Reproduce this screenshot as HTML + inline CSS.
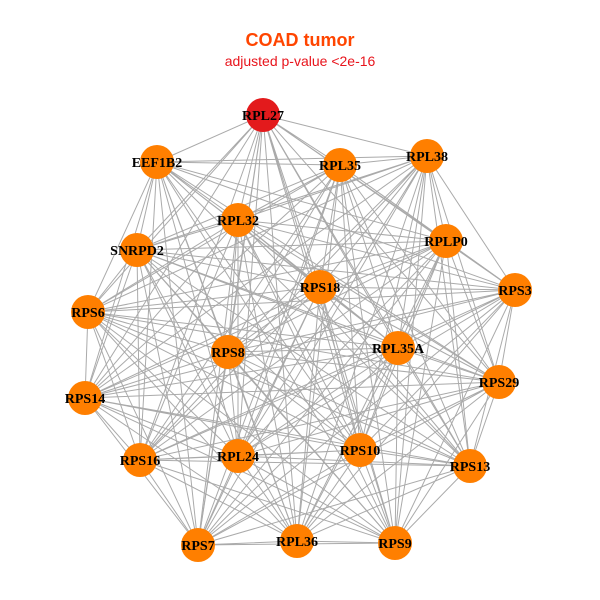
<!DOCTYPE html>
<html><head><meta charset="utf-8"><style>
html,body{margin:0;padding:0;background:#fff;width:600px;height:600px;overflow:hidden}
</style></head><body>
<svg width="600" height="600" viewBox="0 0 600 600" xmlns="http://www.w3.org/2000/svg">
<rect width="600" height="600" fill="#fff"/>
<text x="300" y="46" text-anchor="middle" font-family="Liberation Sans, sans-serif" font-weight="bold" font-size="18" fill="#ff4500">COAD tumor</text>
<text x="300" y="66" text-anchor="middle" font-family="Liberation Sans, sans-serif" font-size="14" fill="#e8141c">adjusted p-value &lt;2e-16</text>
<g stroke="#aaaaaa" stroke-width="1" fill="none">
<path d="M263 115L157 162L263 115L340 165L263 115L427 156L263 115L238 220L263 115L137 250L263 115L446 241L263 115L320 287L263 115L515 290L263 115L88 312L263 115L398 348L263 115L228 352L263 115L499 382L263 115L85 398L263 115L360 450L263 115L238 456L263 115L140 460L263 115L470 466L263 115L198 545L263 115L297 541L263 115L395 543"/>
<path d="M157 162L340 165L157 162L427 156L157 162L238 220L157 162L137 250L157 162L446 241L157 162L320 287L157 162L515 290L157 162L88 312L157 162L398 348L157 162L228 352L157 162L499 382L157 162L85 398L157 162L360 450L157 162L238 456L157 162L140 460L157 162L470 466L157 162L198 545L157 162L297 541L157 162L395 543"/>
<path d="M340 165L427 156L340 165L238 220L340 165L137 250L340 165L446 241L340 165L320 287L340 165L515 290L340 165L88 312L340 165L398 348L340 165L228 352L340 165L499 382L340 165L85 398L340 165L360 450L340 165L238 456L340 165L140 460L340 165L470 466L340 165L198 545L340 165L297 541L340 165L395 543"/>
<path d="M427 156L238 220L427 156L137 250L427 156L446 241L427 156L320 287L427 156L515 290L427 156L88 312L427 156L398 348L427 156L228 352L427 156L499 382L427 156L85 398L427 156L360 450L427 156L238 456L427 156L140 460L427 156L470 466L427 156L198 545L427 156L297 541L427 156L395 543"/>
<path d="M238 220L137 250L238 220L446 241L238 220L320 287L238 220L515 290L238 220L88 312L238 220L398 348L238 220L228 352L238 220L499 382L238 220L85 398L238 220L360 450L238 220L238 456L238 220L140 460L238 220L470 466L238 220L198 545L238 220L297 541L238 220L395 543"/>
<path d="M137 250L446 241L137 250L320 287L137 250L515 290L137 250L88 312L137 250L398 348L137 250L228 352L137 250L499 382L137 250L85 398L137 250L360 450L137 250L238 456L137 250L140 460L137 250L470 466L137 250L198 545L137 250L297 541L137 250L395 543"/>
<path d="M446 241L320 287L446 241L515 290L446 241L88 312L446 241L398 348L446 241L228 352L446 241L499 382L446 241L85 398L446 241L360 450L446 241L238 456L446 241L140 460L446 241L470 466L446 241L198 545L446 241L297 541L446 241L395 543"/>
<path d="M320 287L515 290L320 287L88 312L320 287L398 348L320 287L228 352L320 287L499 382L320 287L85 398L320 287L360 450L320 287L238 456L320 287L140 460L320 287L470 466L320 287L198 545L320 287L297 541L320 287L395 543"/>
<path d="M515 290L88 312L515 290L398 348L515 290L228 352L515 290L499 382L515 290L85 398L515 290L360 450L515 290L238 456L515 290L140 460L515 290L470 466L515 290L198 545L515 290L297 541L515 290L395 543"/>
<path d="M88 312L398 348L88 312L228 352L88 312L499 382L88 312L85 398L88 312L360 450L88 312L238 456L88 312L140 460L88 312L470 466L88 312L198 545L88 312L297 541L88 312L395 543"/>
<path d="M398 348L228 352L398 348L499 382L398 348L85 398L398 348L360 450L398 348L238 456L398 348L140 460L398 348L470 466L398 348L198 545L398 348L297 541L398 348L395 543"/>
<path d="M228 352L499 382L228 352L85 398L228 352L360 450L228 352L238 456L228 352L140 460L228 352L470 466L228 352L198 545L228 352L297 541L228 352L395 543"/>
<path d="M499 382L85 398L499 382L360 450L499 382L238 456L499 382L140 460L499 382L470 466L499 382L198 545L499 382L297 541L499 382L395 543"/>
<path d="M85 398L360 450L85 398L238 456L85 398L140 460L85 398L470 466L85 398L198 545L85 398L297 541L85 398L395 543"/>
<path d="M360 450L238 456L360 450L140 460L360 450L470 466L360 450L198 545L360 450L297 541L360 450L395 543"/>
<path d="M238 456L140 460L238 456L470 466L238 456L198 545L238 456L297 541L238 456L395 543"/>
<path d="M140 460L470 466L140 460L198 545L140 460L297 541L140 460L395 543"/>
<path d="M470 466L198 545L470 466L297 541L470 466L395 543"/>
<path d="M198 545L297 541L198 545L395 543"/>
<path d="M297 541L395 543"/>
</g>
<g>
<circle cx="263" cy="115" r="17" fill="#e31a1c"/>
<circle cx="157" cy="162" r="17" fill="#ff7f00"/>
<circle cx="340" cy="165" r="17" fill="#ff7f00"/>
<circle cx="427" cy="156" r="17" fill="#ff7f00"/>
<circle cx="238" cy="220" r="17" fill="#ff7f00"/>
<circle cx="137" cy="250" r="17" fill="#ff7f00"/>
<circle cx="446" cy="241" r="17" fill="#ff7f00"/>
<circle cx="320" cy="287" r="17" fill="#ff7f00"/>
<circle cx="515" cy="290" r="17" fill="#ff7f00"/>
<circle cx="88" cy="312" r="17" fill="#ff7f00"/>
<circle cx="398" cy="348" r="17" fill="#ff7f00"/>
<circle cx="228" cy="352" r="17" fill="#ff7f00"/>
<circle cx="499" cy="382" r="17" fill="#ff7f00"/>
<circle cx="85" cy="398" r="17" fill="#ff7f00"/>
<circle cx="360" cy="450" r="17" fill="#ff7f00"/>
<circle cx="238" cy="456" r="17" fill="#ff7f00"/>
<circle cx="140" cy="460" r="17" fill="#ff7f00"/>
<circle cx="470" cy="466" r="17" fill="#ff7f00"/>
<circle cx="198" cy="545" r="17" fill="#ff7f00"/>
<circle cx="297" cy="541" r="17" fill="#ff7f00"/>
<circle cx="395" cy="543" r="17" fill="#ff7f00"/>
</g>
<g font-family="Liberation Serif, serif" font-weight="bold" font-size="14" fill="#000" text-anchor="middle">
<text x="263" y="120">RPL27</text>
<text x="157" y="167">EEF1B2</text>
<text x="340" y="170">RPL35</text>
<text x="427" y="161">RPL38</text>
<text x="238" y="225">RPL32</text>
<text x="137" y="255">SNRPD2</text>
<text x="446" y="246">RPLP0</text>
<text x="320" y="292">RPS18</text>
<text x="515" y="295">RPS3</text>
<text x="88" y="317">RPS6</text>
<text x="398" y="353">RPL35A</text>
<text x="228" y="357">RPS8</text>
<text x="499" y="387">RPS29</text>
<text x="85" y="403">RPS14</text>
<text x="360" y="455">RPS10</text>
<text x="238" y="461">RPL24</text>
<text x="140" y="465">RPS16</text>
<text x="470" y="471">RPS13</text>
<text x="198" y="550">RPS7</text>
<text x="297" y="546">RPL36</text>
<text x="395" y="548">RPS9</text>
</g>
</svg>
</body></html>
